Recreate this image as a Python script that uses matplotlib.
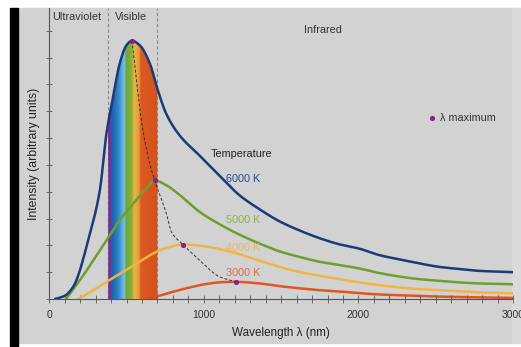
import numpy as np
import matplotlib
matplotlib.use("Agg")
from matplotlib import pyplot
from matplotlib.patches import Rectangle, Polygon
from matplotlib.colors import LinearSegmentedColormap

# blackbody curves (nm, arbitrary units)
wl_6000 = [37, 100, 155, 263, 327, 370, 413, 456, 499, 535, 585, 650, 703, 757,
           843, 972, 1101, 1230, 1359, 1488, 1617, 1747, 1876, 2004, 2133,
           2262, 2391, 2520, 2649, 2778, 3000]
int_6000 = [0, 0.12, 0.46, 2.44, 4.05, 6.18, 7.55, 8.79, 9.46, 9.63, 9.46, 8.79,
            7.77, 6.9, 6.1, 5.35, 4.6, 3.87, 3.35, 2.9, 2.56, 2.27, 2.04, 1.88,
            1.64, 1.48, 1.33, 1.2, 1.12, 1.05, 1.0]

wl_5000 = [108, 198, 286, 370, 456, 544, 628, 682, 757, 843, 972, 1101, 1230,
           1359, 1488, 1617, 1747, 1876, 2004, 2133, 2262, 2391, 2520, 2649,
           2778, 3000]
int_5000 = [0, 0.7, 1.45, 2.19, 2.94, 3.56, 4.12, 4.42, 4.24, 3.88, 3.25, 2.79,
            2.4, 2.07, 1.78, 1.57, 1.39, 1.27, 1.14, 0.97, 0.84, 0.74, 0.68,
            0.62, 0.58, 0.55]

wl_4000 = [187, 286, 370, 477, 585, 693, 779, 865, 972, 1101, 1230, 1359, 1488,
           1617, 1747, 1876, 2004, 2133, 2262, 2391, 2520, 2649, 2778, 3000]
int_4000 = [0, 0.33, 0.64, 1.01, 1.39, 1.76, 1.94, 2.03, 1.99, 1.86, 1.67, 1.43,
            1.2, 1.01, 0.87, 0.74, 0.62, 0.52, 0.43, 0.37, 0.33, 0.29, 0.25,
            0.21]

wl_3000 = [430, 560, 697, 800, 908, 1015, 1123, 1209, 1359, 1488, 1617, 1747,
           1876, 2004, 2133, 2262, 2520, 2778, 3000]
int_3000 = [0, 0.03, 0.11, 0.27, 0.43, 0.56, 0.63, 0.64, 0.58, 0.48, 0.4, 0.33,
            0.28, 0.22, 0.17, 0.14, 0.09, 0.06, 0.04]

# peaks and the dashed line through them
peak_wl = [535, 682, 865, 1209]
peak_int = [9.63, 4.42, 2.03, 0.64]
locus_wl = [535, 564, 606, 650, 682, 757, 790, 865, 972, 1101, 1209]
locus_int = [9.63, 8.14, 6.28, 5.04, 4.42, 3.19, 2.5, 2.03, 1.45, 0.83, 0.64]

temp_labels = ["6000 K", "5000 K", "4000 K", "3000 K"]
temp_label_int = [4.49, 2.96, 1.92, 0.98]
region_names = ["Ultraviolet", "Visible", "Infrared"]
region_wl = [177, 531, 1768]
region_int = [10.52, 10.52, 10.03]
visible_range = [380, 700]

line_colors = ["#1d3a78", "#6e9f2e", "#f0b445", "#e0561f"]
label_colors = ["#2c4a8c", "#8fb04a", "#e8b860", "#e06a40"]
peak_color = "#8a1f8a"
bg = "#d2d2d2"


def smooth(x, y, n=400):
  # monotone cubic (pchip) through the read points, only for drawing
  x = np.asarray(x, float)
  y = np.asarray(y, float)
  h = np.diff(x)
  d = np.diff(y) / h
  m = np.zeros_like(y)
  for k in range(1, len(x) - 1):
    if d[k - 1] * d[k] > 0:
      w1 = 2 * h[k] + h[k - 1]
      w2 = h[k] + 2 * h[k - 1]
      m[k] = (w1 + w2) / (w1 / d[k - 1] + w2 / d[k])
  m[0] = d[0]
  m[-1] = d[-1]
  xs = np.linspace(x[0], x[-1], n)
  i = np.clip(np.searchsorted(x, xs) - 1, 0, len(x) - 2)
  t = (xs - x[i]) / h[i]
  h00 = 2 * t**3 - 3 * t**2 + 1
  h10 = t**3 - 2 * t**2 + t
  h01 = -2 * t**3 + 3 * t**2
  h11 = t**3 - t**2
  ys = h00 * y[i] + h10 * h[i] * m[i] + h01 * y[i + 1] + h11 * h[i] * m[i + 1]
  return xs, ys


fig = pyplot.figure(figsize=(5.21, 3.47), dpi=100, facecolor="white")
W, H = 521.0, 347.0
fig.patches.append(Rectangle((18 / W, 4 / H), 494 / W, 335 / H,
                             transform=fig.transFigure, color=bg, zorder=-10))
fig.patches.append(Rectangle((512 / W, 4 / H), 9 / W, 335 / H,
                             transform=fig.transFigure, color="#dadada", zorder=-10))
fig.patches.append(Rectangle((10 / W, 0), 8 / W, 339 / H,
                             transform=fig.transFigure, color="black", zorder=-10))

ax = fig.add_axes([49.3 / W, 48 / H, (513 - 49.3) / W, (299 - 8) / H])
ax.set_facecolor("none")
ax.set_xlim(0, 3000)
ax.set_ylim(0, 10.85)

font = dict(family="Liberation Sans", size=7.8)

# region boundaries
for v in visible_range:
  ax.axvline(v, color="#8a8a8a", lw=0.8, ls=(0, (3, 2)), zorder=1)

# visible spectrum band, clipped under the 6000 K curve
spec = LinearSegmentedColormap.from_list("spec", [
    (0.0, "#7a2a8c"), (0.05, "#6a3a9a"), (0.08, "#1f5fae"), (0.2, "#2e86c6"),
    (0.33, "#7cc0e6"), (0.36, "#6aa83a"), (0.47, "#88b038"), (0.53, "#e8b54a"),
    (0.62, "#e89a38"), (0.66, "#dc5a22"), (1.0, "#d4501e")])
grad = np.linspace(0, 1, 320).reshape(1, -1)
img = ax.imshow(grad, extent=[visible_range[0], visible_range[1], 0, 10.85],
                aspect="auto", cmap=spec, zorder=2, interpolation="bilinear")
sx, sy = smooth(wl_6000, int_6000, 1500)
keep = (sx >= visible_range[0]) & (sx <= visible_range[1])
xs, ys = sx[keep], sy[keep]
clip = Polygon(np.column_stack([np.r_[xs, xs[-1], xs[0]], np.r_[ys, 0, 0]]),
               closed=True, transform=ax.transData, facecolor="none",
               edgecolor="none")
ax.add_patch(clip)
img.set_clip_path(clip)

# curves
curves = [(wl_6000, int_6000, 4), (wl_5000, int_5000, 3),
          (wl_4000, int_4000, 3), (wl_3000, int_3000, 1.5)]
for (wx, wy, z), c in zip(curves, line_colors):
  px, py = smooth(wx, wy)
  ax.plot(px, py, color=c, lw=1.8, zorder=z, solid_capstyle="round")

lx, ly = smooth(locus_wl, locus_int)
ax.plot(lx, ly, color="#333333", lw=0.7, ls=(0, (3, 2)), zorder=5)
ax.scatter(peak_wl, peak_int, s=14, color=peak_color, zorder=6, linewidths=0)

# labels
for name, x, y in zip(region_names, region_wl, region_int):
  ax.text(x, y, name, ha="center", va="center", color="#333333", **font)
ax.text(1241, 5.42, "Temperature", ha="center", va="center", color="#222222",
        **font)
for lab, y, c in zip(temp_labels, temp_label_int, label_colors):
  ax.text(1252, y, lab, ha="center", va="center", color=c, **font)
ax.scatter([2477], [6.75], s=14, color=peak_color, linewidths=0)
ax.text(2525, 6.75, "λ maximum", ha="left", va="center", color="#333333",
        **font)

# axes styling
for s in ["top", "right"]:
  ax.spines[s].set_visible(False)
for s in ["left", "bottom"]:
  ax.spines[s].set_color("#555555")
  ax.spines[s].set_linewidth(0.8)
ax.set_xticks([0, 1000, 2000, 3000])
ax.set_xticks(np.arange(0, 3001, 100), minor=True)
ax.set_yticks(np.arange(0, 11, 1))
ax.set_yticklabels([])
ax.tick_params(axis="x", which="both", direction="inout", length=6,
               width=0.6, color="#555555", labelsize=7.5, pad=5,
               labelcolor="#333333")
ax.tick_params(axis="y", direction="inout", length=5, width=0.6,
               color="#555555")
for t in ax.get_xticklabels():
  t.set_family("Liberation Sans")

ax.set_xlabel("Wavelength λ (nm)", labelpad=5, color="#222222",
              family="Liberation Sans", size=8.4)
ax.set_ylabel("Intensity (arbitrary units)", labelpad=1, color="#222222",
              family="Liberation Sans", size=8.8)

pyplot.savefig("out.png", dpi=100, facecolor=fig.get_facecolor())
pyplot.close()
